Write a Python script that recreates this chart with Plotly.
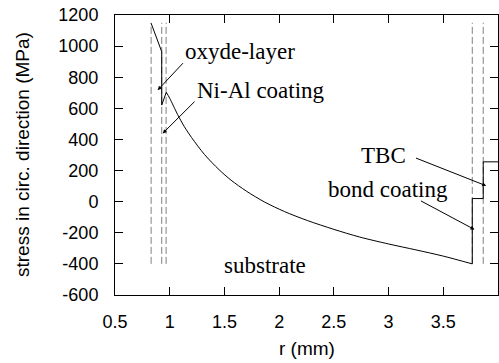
import plotly.graph_objects as go

# ---- data ----
# substrate stress curve (r in mm, stress in MPa)
sub_r = [0.967, 1.0, 1.073, 1.134, 1.2, 1.317, 1.45, 1.561, 1.7, 1.866, 2.05, 2.261, 2.5, 2.734, 3.0, 3.25, 3.5, 3.765]
sub_s = [705, 665, 559, 482, 412, 304, 206, 138, 68, -2, -64, -122, -178, -227, -272, -310, -350, -400]

# oxide layer + Ni-Al coating segment
oxi_r = [0.83, 0.927, 0.927, 0.967]
oxi_s = [1147, 964, 621, 700]

# bond coating + TBC segment
outer_r = [3.765, 3.765, 3.865, 3.865, 4.0]
outer_s = [-400, 20, 20, 256, 256]

# layer boundaries (dashed)
bound_r = [0.83, 0.927, 0.967, 3.765, 3.865]
bound_lo = -400
bound_hi = 1150

x_ticks = [0.5, 1, 1.5, 2, 2.5, 3, 3.5, 4]
x_ticktext = ["0.5", "1", "1.5", "2", "2.5", "3", "3.5", "4"]
y_ticks = [-600, -400, -200, 0, 200, 400, 600, 800, 1000, 1200]
y_ticktext = ["-600", "-400", "-200", "0", "200", "400", "600", "800", "1000", "1200"]

# labels: (text, x, y, xanchor)
labels = [
    ("oxyde-layer", 1.125, 964, "left"),
    ("Ni-Al coating", 1.228, 717, "left"),
    ("TBC", 3.175, 299, "right"),
    ("bond coating", 3.557, 80, "right"),
    ("substrate", 1.87, -410, "center"),
]
# arrows: (tail_x, tail_y, tip_x, tip_y)
arrows = [
    (1.134, 900, 0.89, 717),
    (1.241, 653, 0.936, 439),
    (3.237, 284, 3.892, 102),
    (3.282, 10, 3.785, -179),
]

fig = go.Figure()

for r in bound_r:
    fig.add_trace(go.Scatter(x=[r, r], y=[bound_lo, bound_hi], mode="lines",
                             line=dict(color="#808080", width=1, dash="7px,3px"),
                             showlegend=False, hoverinfo="skip"))

fig.add_trace(go.Scatter(x=oxi_r, y=oxi_s, mode="lines",
                         line=dict(color="black", width=1), showlegend=False))
fig.add_trace(go.Scatter(x=sub_r, y=sub_s, mode="lines",
                         line=dict(color="black", width=1, shape="spline", smoothing=0.8),
                         showlegend=False))
fig.add_trace(go.Scatter(x=outer_r, y=outer_s, mode="lines",
                         line=dict(color="black", width=1), showlegend=False))

serif = dict(family="Liberation Serif", size=23, color="black")
for text, x, y, xa in labels:
    fig.add_annotation(x=x, y=y, text=text, showarrow=False, xanchor=xa,
                       yanchor="middle", font=serif)
for tx, ty, hx, hy in arrows:
    fig.add_annotation(x=hx, y=hy, ax=tx, ay=ty, axref="x", ayref="y", text="",
                       showarrow=True, arrowhead=2, arrowsize=0.8, arrowwidth=1,
                       arrowcolor="black", standoff=0, startstandoff=0)

sans = dict(family="Liberation Sans", size=18, color="black")
fig.add_annotation(xref="paper", yref="paper", x=0, y=0.5, xshift=-93,
                   text="stress in circ. direction (MPa)", textangle=-90,
                   showarrow=False, xanchor="center", yanchor="middle",
                   font=dict(family="Liberation Sans", size=19, color="black"))
fig.add_annotation(xref="paper", yref="paper", x=0.5, y=0, yshift=-53,
                   text="r (mm)", showarrow=False, xanchor="center", yanchor="middle",
                   font=dict(family="Liberation Sans", size=19, color="black"))

axis_common = dict(showline=True, linecolor="black", linewidth=1, mirror="ticks",
                   ticks="inside", ticklen=8, tickcolor="black", tickwidth=1,
                   showgrid=False, zeroline=False, tickfont=sans)
fig.update_xaxes(range=[0.5, 4], tickvals=x_ticks, ticktext=x_ticktext,
                 ticklabelstandoff=10, **axis_common)
fig.update_yaxes(range=[-600, 1200], tickvals=y_ticks, ticktext=y_ticktext,
                 ticklabelstandoff=12, **axis_common)

fig.update_layout(width=499, height=363, margin=dict(l=115, r=1, t=15, b=68),
                  plot_bgcolor="white", paper_bgcolor="white", showlegend=False)

fig.write_html("out.html")
